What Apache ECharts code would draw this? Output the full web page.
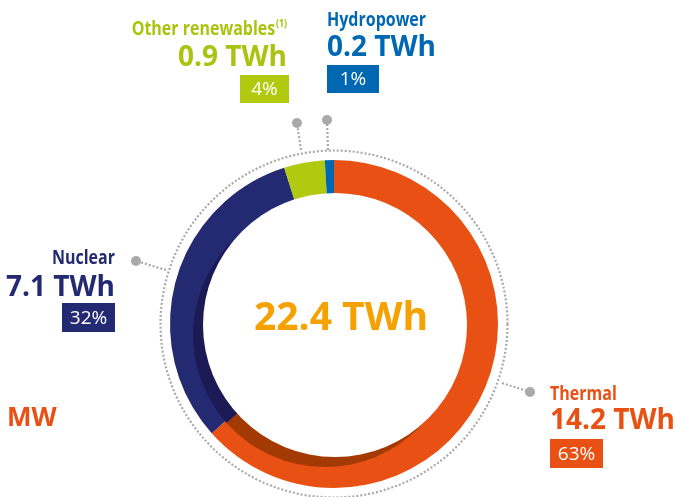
<!DOCTYPE html>
<html>
<head>
<meta charset="utf-8">
<script src="https://cdn.jsdelivr.net/npm/echarts@6/dist/echarts.min.js"></script>
<style>
  html, body { margin: 0; padding: 0; background: #fff; }
  #chart { width: 675px; height: 497px; }
</style>
</head>
<body>
<div id="chart"></div>
<script>
// data
const categories = ['Thermal', 'Nuclear', 'Other renewables', 'Hydropower'];
const values = [14.2, 7.1, 0.9, 0.2];
const shareLabels = ['63%', '32%', '4%', '1%'];
const unit = 'TWh';
const sideNote = 'MW';

// styles
const lightColors = ['#e85113', '#232a72', '#b1c90f', '#0068b3'];
const darkColors = ['#a33a04', '#1c1a55', '#7f910b', '#004a80'];
const textColors = ['#e85113', '#232a72', '#a9c40f', '#0068b3'];

const CX = 334, CY = 324;

// label placement per slice (positions only)
const labelPos = [
  { x: 550, align: 'left', nameY: 394, valueY: 421, box: [550, 439, 53, 29], dot: [530, 392], line: [[502, 383], [530, 392]] },
  { x: 115, align: 'right', nameY: 258, valueY: 288, box: [62, 303, 53, 29], dot: [136, 261], line: [[166, 270], [136, 261]] },
  { x: 287, align: 'right', nameY: 29, valueY: 58, box: [240, 75, 49, 28], dot: [297, 123], line: [[301, 150], [297, 123]] },
  { x: 327, align: 'left', nameY: 20, valueY: 48, box: [327, 65, 52, 28], dot: [327, 120], line: [[328, 150], [327, 120]] }
];

const total = values.reduce((a, b) => a + b, 0);
const pieData = categories.map((c, i) => ({ name: c, value: values[i] }));

const numFont = "'Open Sans', 'Noto Sans', sans-serif";
const dotted = { stroke: '#a9a9a9', lineWidth: 2.2, lineDash: [2, 2], fill: null };

const graphic = [
  { type: 'circle', z: 10, shape: { cx: CX, cy: CY, r: 173.5 }, style: dotted, silent: true },
  {
    type: 'text', z: 10, silent: true,
    style: { x: 341, y: 319, text: total.toFixed(1) + ' ' + unit, fill: '#f5a100', font: 'bold 39px ' + numFont, align: 'center', verticalAlign: 'middle' }
  },
  {
    type: 'text', z: 10, silent: true,
    style: { x: 7, y: 419, text: sideNote, fill: '#e85113', font: 'bold 26px ' + numFont, align: 'left', verticalAlign: 'middle' }
  }
];

categories.forEach((c, i) => {
  const p = labelPos[i];
  const nameText = c === 'Other renewables' ? '{n|' + c + '}{s|(1)}' : '{n|' + c + '}';
  // condensed look for the category names
  graphic.push({
    type: 'text', z: 10, silent: true,
    x: p.x, y: p.nameY, scaleX: 0.8,
    style: {
      x: 0, y: 0, text: nameText, align: p.align, verticalAlign: 'middle',
      rich: {
        n: { fill: textColors[i], font: 'bold 20px ' + numFont },
        s: { fill: textColors[i], font: 'bold 11px ' + numFont, verticalAlign: 'top', padding: [0, 0, 10, 1] }
      }
    }
  });
  graphic.push({
    type: 'text', z: 10, silent: true,
    style: { x: p.x, y: p.valueY, text: values[i].toFixed(1) + ' ' + unit, fill: textColors[i], font: 'bold 28px ' + numFont, align: p.align, verticalAlign: 'middle' }
  });
  graphic.push({
    type: 'rect', z: 10, silent: true,
    shape: { x: p.box[0], y: p.box[1], width: p.box[2], height: p.box[3] },
    style: { fill: lightColors[i] }
  });
  graphic.push({
    type: 'text', z: 11, silent: true,
    style: { x: p.box[0] + p.box[2] / 2, y: p.box[1] + p.box[3] / 2 + 1, text: shareLabels[i], fill: '#fff', font: '19px ' + numFont, align: 'center', verticalAlign: 'middle' }
  });
  graphic.push({ type: 'polyline', z: 10, silent: true, shape: { points: p.line }, style: dotted });
  graphic.push({ type: 'circle', z: 10, silent: true, shape: { cx: p.dot[0], cy: p.dot[1], r: 5 }, style: { fill: '#a9a9a9' } });
});

const chart = echarts.init(document.getElementById('chart'));
chart.setOption({
  animation: false,
  series: [
    {
      type: 'pie', z: 1, silent: true, startAngle: 90, clockwise: true,
      center: [CX, CY], radius: [0, 164],
      label: { show: false }, labelLine: { show: false },
      itemStyle: { color: (d) => lightColors[d.dataIndex] },
      data: pieData
    },
    {
      // shadow band on the inner edge, shifted down-left
      type: 'pie', z: 2, silent: true, startAngle: 90, clockwise: true,
      center: [CX - 9, CY + 11], radius: [0, 132],
      label: { show: false }, labelLine: { show: false },
      itemStyle: { color: (d) => darkColors[d.dataIndex] },
      data: pieData
    },
    {
      type: 'pie', z: 3, silent: true,
      center: [CX + 1, CY + 1], radius: [0, 132],
      label: { show: false }, labelLine: { show: false },
      itemStyle: { color: '#fff' },
      data: [{ value: 1, name: 'hole' }]
    }
  ],
  graphic: graphic
});
</script>
</body>
</html>
